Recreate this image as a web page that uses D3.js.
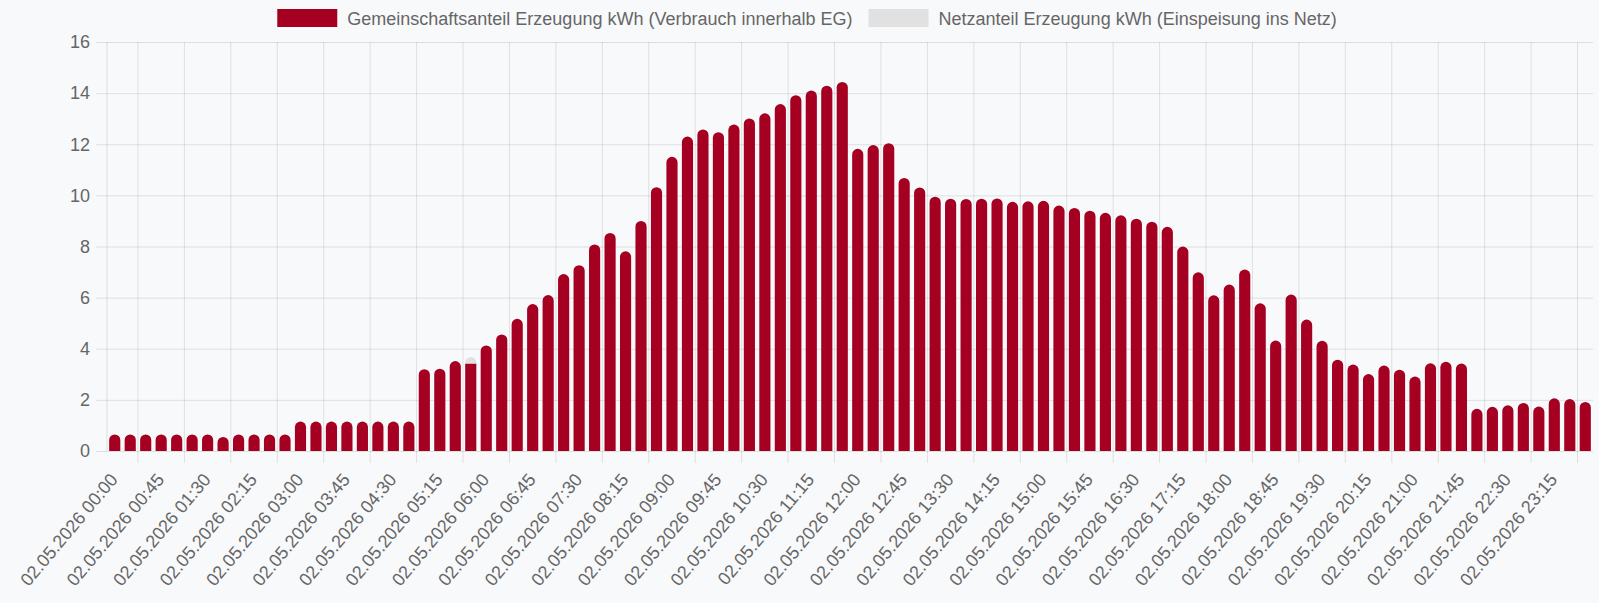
<!DOCTYPE html>
<html>
<head>
<meta charset="utf-8">
<script src="https://cdn.jsdelivr.net/npm/d3@7/dist/d3.min.js"></script>
<style>
    body { margin: 0; background: #f8f9fb; }
    #chart { width: 1599px; height: 603px; }
    text { font-family: "Helvetica Neue", Helvetica, Arial, "Liberation Sans", sans-serif; fill: #666; }
</style>
</head>
<body>
<div id="chart"></div>
<script>
//Colores fijos
const COLOR_EG = '#a50021',
COLOR_NETZ = '#e1e1e1',
COLOR_GRID = 'rgba(0,0,0,0.1)';

//Datos
const fecha = '02.05.2026';
const horas = d3.range(96).map(function(i) { return d3.format('02')(Math.floor(i / 4)) + ':' + d3.format('02')((i % 4) * 15); });
const categorias = horas.map(function(h) { return fecha + ' ' + h; });

const gemeinschaftsanteil = [
    0.65, 0.65, 0.65, 0.65, 0.65, 0.65, 0.65, 0.55, 0.65, 0.65, 0.65, 0.65,
    1.15, 1.15, 1.15, 1.15, 1.15, 1.15, 1.15, 1.15, 3.2, 3.22, 3.52, 3.42,
    4.13, 4.56, 5.17, 5.75, 6.1, 6.92, 7.27, 8.08, 8.53, 7.81, 9.0, 10.32,
    11.51, 12.3, 12.58, 12.47, 12.77, 13.01, 13.21, 13.57, 13.92, 14.1, 14.29, 14.44,
    11.82, 11.97, 12.04, 10.68, 10.31, 9.95, 9.87, 9.86, 9.87, 9.88, 9.75, 9.77,
    9.79, 9.6, 9.51, 9.4, 9.32, 9.22, 9.09, 8.97, 8.77, 8.0, 6.99, 6.09,
    6.51, 7.1, 5.78, 4.32, 6.12, 5.14, 4.31, 3.57, 3.38, 3.01, 3.34, 3.18,
    2.91, 3.43, 3.49, 3.42, 1.65, 1.73, 1.79, 1.88, 1.74, 2.06, 2.03, 1.92
];
const netzanteil = [
    0, 0, 0, 0, 0, 0, 0, 0, 0, 0, 0, 0,
    0, 0, 0, 0, 0, 0, 0, 0, 0, 0, 0, 0.26,
    0, 0, 0, 0, 0, 0, 0, 0, 0, 0, 0, 0,
    0, 0, 0, 0, 0, 0, 0, 0, 0, 0, 0, 0,
    0, 0, 0, 0, 0, 0, 0, 0, 0, 0, 0, 0,
    0, 0, 0, 0, 0, 0, 0, 0, 0, 0, 0, 0,
    0, 0, 0, 0, 0, 0, 0, 0, 0, 0, 0, 0,
    0, 0, 0, 0, 0, 0, 0, 0, 0, 0, 0, 0
];
const serien = ['Gemeinschaftsanteil Erzeugung kWh (Verbrauch innerhalb EG)', 'Netzanteil Erzeugung kWh (Einspeisung ins Netz)'];
const yTicks = [0, 2, 4, 6, 8, 10, 12, 14, 16];
const xTickStep = 3;

let data = categorias.map(function(c, i) { return {cat: c, eg: gemeinschaftsanteil[i], netz: netzanteil[i]}; });

let margin = {top: 42, right: 6, bottom: 152, left: 107},
    width = 1599 - margin.left - margin.right,
    height = 603 - margin.top - margin.bottom;

let root = d3.select('#chart')
    .append('svg')
        .attr('width', width + margin.left + margin.right)
        .attr('height', height + margin.top + margin.bottom);

let svg = root.append('g')
    .attr('transform', 'translate(' + margin.left + ',' + margin.top + ')');

let x = d3.scaleBand()
    .domain(categorias)
    .range([0, width])
    .paddingInner(0.28)
    .paddingOuter(0.14);

let step = x.step();

let y = d3.scaleLinear()
    .domain([0, 16])
    .range([height, 0]);

//Rejilla horizontal + eje Y
let yAxis = svg.append('g')
    .attr('transform', 'translate(-11,0)')
    .call(d3.axisLeft(y).tickValues(yTicks).tickSize(-(width + 11)).tickPadding(6));
yAxis.select('.domain').remove();
yAxis.selectAll('line').attr('stroke', COLOR_GRID);
yAxis.selectAll('text').attr('font-size', '18px').attr('fill', '#666');

//Rejilla vertical (entre etiquetas mostradas)
let xTicks = categorias.filter(function(d, i) { return i % xTickStep == 0; });
let gridX = xTicks.map(function(d) { return x(d) + x.bandwidth() / 2 - step * xTickStep / 2; }).filter(function(v) { return v > 0; });
gridX.push(x(xTicks[xTicks.length - 1]) + x.bandwidth() / 2 + step * xTickStep / 2);
gridX.unshift(0);

svg.append('g')
    .selectAll('line')
    .data(gridX)
    .enter()
    .append('line')
    .attr('x1', function(d) { return d; })
    .attr('x2', function(d) { return d; })
    .attr('y1', 0)
    .attr('y2', function(d) { return d == 0 ? height : height + 12; })
    .attr('stroke', COLOR_GRID);

//Etiquetas eje X
svg.append('g')
    .selectAll('text')
    .data(xTicks)
    .enter()
    .append('text')
    .attr('transform', function(d) { return 'translate(' + (x(d) + x.bandwidth() / 2 + 4) + ',' + (height + 29) + ') rotate(-50)'; })
    .attr('text-anchor', 'end')
    .attr('font-size', '18px')
    .text(function(d) { return d; });

//Barras apiladas, solo el segmento superior redondeado
let stack = d3.stack().keys(['eg', 'netz'])(data);
let color = d3.scaleOrdinal().domain(['eg', 'netz']).range([COLOR_EG, COLOR_NETZ]);

function barPath(x0, y0, w, h, r) {
    if (h <= 0) return '';
    if (!r) return 'M' + x0 + ',' + (y0 + h) + 'V' + y0 + 'H' + (x0 + w) + 'V' + (y0 + h) + 'Z';
    r = Math.min(r, w / 2, h);
    return 'M' + x0 + ',' + (y0 + h) +
        'V' + (y0 + r) +
        'A' + r + ',' + r + ' 0 0 1 ' + (x0 + r) + ',' + y0 +
        'H' + (x0 + w - r) +
        'A' + r + ',' + r + ' 0 0 1 ' + (x0 + w) + ',' + (y0 + r) +
        'V' + (y0 + h) + 'Z';
}

svg.append('g')
    .selectAll('g')
    .data(stack)
    .enter()
    .append('g')
    .attr('fill', function(d) { return color(d.key); })
    .selectAll('path')
    .data(function(d) { return d.map(function(p) { return {key: d.key, p: p}; }); })
    .enter()
    .append('path')
    .attr('d', function(d) {
        let top = d.key == 'netz' ? true : d.p.data.netz == 0;
        let y0 = y(d.p[1]), h = y(d.p[0]) - y(d.p[1]);
        return barPath(x(d.p.data.cat), y0, x.bandwidth(), h, top ? 6 : 0);
    });

//Leyenda
let legend = root.append('g');
let lx = 0;
serien.forEach(function(s, i) {
    let item = legend.append('g').attr('transform', 'translate(' + lx + ',0)');
    item.append('rect')
        .attr('x', 0).attr('y', 9)
        .attr('width', 60).attr('height', 18)
        .attr('fill', i == 0 ? COLOR_EG : COLOR_NETZ);
    let t = item.append('text')
        .attr('x', 70).attr('y', 24.5)
        .attr('font-size', '18px')
        .text(s);
    lx += 70 + t.node().getComputedTextLength() + 16;
});
lx -= 16;
legend.attr('transform', 'translate(' + (807 - lx / 2) + ',0)');
</script>
</body>
</html>
